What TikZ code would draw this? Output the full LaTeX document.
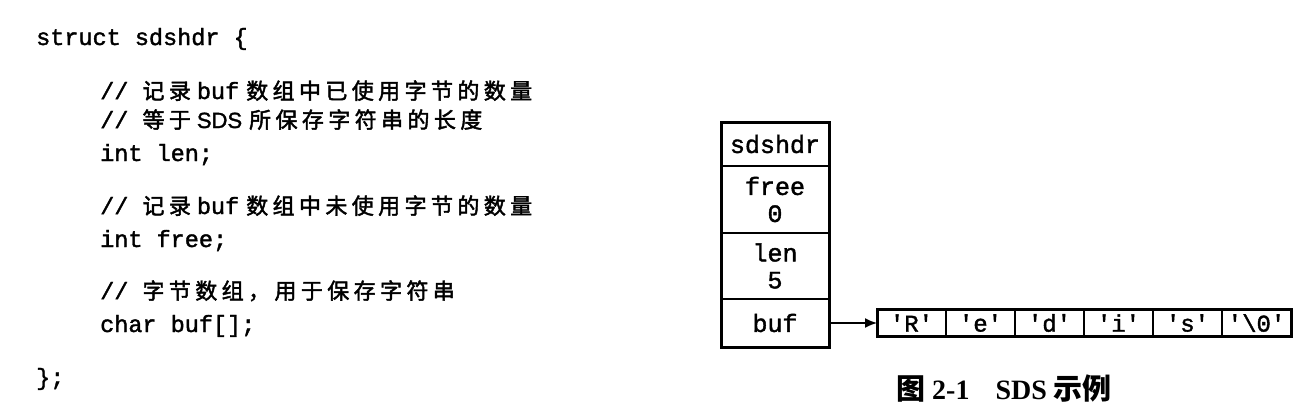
\documentclass[tikz,border=0pt]{standalone}
\usepackage{fontspec}
\setmainfont{Liberation Serif}
\setsansfont{Liberation Sans}[RawFeature={embolden=1.5}]
\setmonofont{Liberation Mono}[RawFeature={embolden=1.6}]
\newfontfamily\cjk{Noto Sans CJK SC}
\newfontfamily\cjkcode[LetterSpace=20, RawFeature={embolden=2}]{Noto Sans CJK SC}
\newcommand{\zh}[1]{{\cjkcode\fontsize{22}{28}\selectfont #1}}
\usetikzlibrary{positioning, arrows.meta}

\begin{document}
\begin{tikzpicture}[
        x=1pt, y=-1pt,
        code/.style={
            anchor=base west,
            inner sep=0pt,
            font=\fontsize{23.5}{28}\selectfont\ttfamily
        },
        field/.style={
            draw,
            line width=1.6pt,
            outer sep=0pt,
            inner sep=0pt,
            minimum width=108pt,
            align=center,
            font=\fontsize{25}{27}\selectfont\ttfamily
        },
        cell/.style={
            draw,
            line width=1.4pt,
            outer sep=0pt,
            inner sep=0pt,
            minimum width=69pt,
            minimum height=27pt,
            font=\fontsize{24}{26}\selectfont\ttfamily
        },
        caption/.style={
            anchor=base west,
            inner sep=0pt,
            font=\fontsize{28}{30}\selectfont\bfseries
        },
        arrow/.style={
            -{Latex[length=12pt,width=10pt]},
            line width=1.6pt
        }
    ]
    \useasboundingbox (0,0) rectangle (1308,410);

    % struct definition
    \node[code] (head) at (36,45) {struct sdshdr \{};
    \node[code] (cm1) at (100,99) {// \zh{记录}\hspace{6pt}buf\hspace{7pt}\zh{数组中已使用字节的数量}};
    \node[code] (cm2) at (100,128) {// \zh{等于}\hspace{6pt}{\sffamily\fontsize{22}{28}\selectfont SDS}\hspace{7pt}\zh{所保存字符串的长度}};
    \node[code] (len) at (100,161) {int len;};
    \node[code] (cm3) at (100,214) {// \zh{记录}\hspace{6pt}buf\hspace{7pt}\zh{数组中未使用字节的数量}};
    \node[code] (free) at (100,247) {int free;};
    \node[code] (cm4) at (100,299) {// \zh{字节数组，用于保存字符串}};
    \node[code] (buf) at (100,332) {char buf[];};
    \node[code] (tail) at (36,385) {\};};

    % sdshdr box
    \node[field, minimum height=44pt] (hdr) at (775,144) {sdshdr};
    \node[field, minimum height=67pt, below=0pt of hdr] (ffree) {free\\0};
    \node[field, minimum height=66pt, below=0pt of ffree] (flen) {len\\5};
    \node[field, minimum height=48pt, below=0pt of flen] (fbuf) {buf};
    \draw[line width=3pt] (hdr.north west) rectangle (fbuf.south east);

    % buf array
    \node[cell, right=48pt of fbuf] (chR) {'R'};
    \node[cell, right=0pt of chR] (che) {'e'};
    \node[cell, right=0pt of che] (chd) {'d'};
    \node[cell, right=0pt of chd] (chi) {'i'};
    \node[cell, right=0pt of chi] (chs) {'s'};
    \node[cell, right=0pt of chs] (chz) {'\textbackslash 0'};
    \draw[line width=3pt] (chR.north west) rectangle (chz.south east);

    \draw[arrow] (fbuf) -- (chR);

    \node[caption] (cap) at (896,399) {{\cjk\fontsize{29}{30}\selectfont 图}\hspace{7pt}2-1\hspace{26pt}SDS\hspace{7pt}{\cjk\fontsize{29}{30}\selectfont 示例}};

\end{tikzpicture}
\end{document}
